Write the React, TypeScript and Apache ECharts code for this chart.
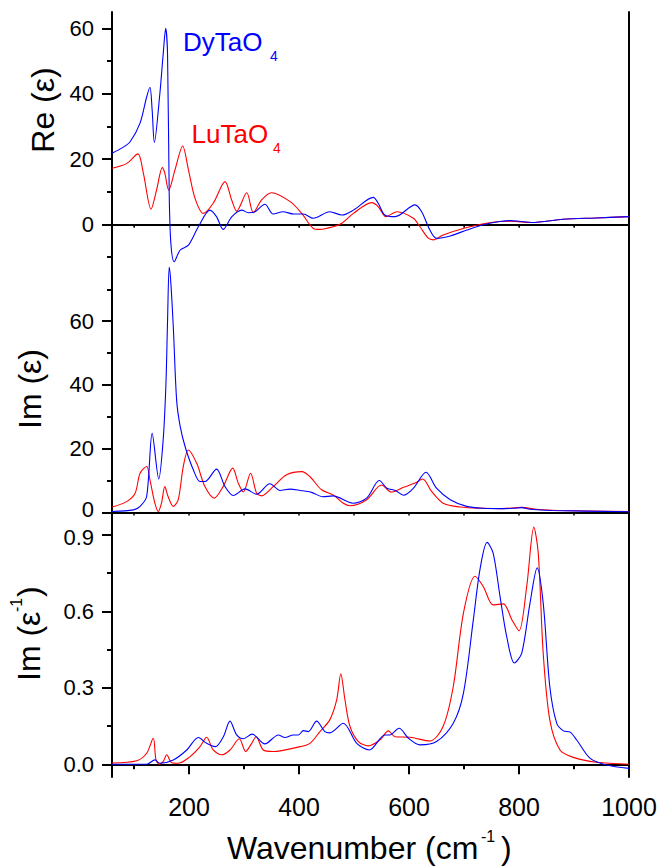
import React, { useEffect, useRef } from "react";
import * as echarts from "echarts";

// ---- data: [wavenumber (cm-1), value] ----
const reDy: number[][] = [
  [60, 21.8], [80, 23.6], [93, 25.3], [111, 31], [123, 39], [129, 42], [133, 35], [137, 25.1],
  [147, 40], [153, 52], [157.6, 60], [161, 52], [164, 9.6], [167, -5.7], [173, -11.4],
  [184, -7.8], [199, -6.3], [217, -0.7], [238, 4.4], [250, 2.4], [262, -1.5], [278, 2.4],
  [296, 4.4], [308, 3.6], [320, 3.9], [338, 6.2], [353, 3.2], [371, 3.9], [390, 3.2],
  [408, 3.2], [426, 1.9], [456, 3.9], [478, 2.9], [499, 4.4], [535, 8.3], [544, 6.5],
  [556, 2.9], [575, 2.4], [611, 6], [623, 3.9], [638, -1.7], [650, -4.2], [675, -3.5],
  [705, -1.7], [735, -0.1], [765, 0.9], [784, 1.2], [800, 1.0], [823, 0.6], [880, 1.6],
  [940, 2.0], [1000, 2.4],
];
const reLu: number[][] = [
  [60, 17.2], [87, 18.7], [107, 21.6], [117, 15.7], [131, 4.7], [141, 10.5], [151.5, 17.4],
  [156, 15.7], [163, 10.5], [174.5, 16.7], [188.5, 24], [199, 16.7], [211, 8], [226, 3.4],
  [244, 6.5], [265.5, 13.1], [277.6, 7.5], [286.7, 4.1], [305, 9.7], [317, 3.6], [332, 7.5],
  [350, 9.7], [384, 7], [405, 3.4], [426, -1.2], [438, -1.5], [462, -0.7], [478, 0.4],
  [499, 3.4], [532, 6.7], [544, 5.5], [558, 2.4], [578, 3.9], [608, 1.9], [620, -0.7],
  [635, -4.2], [644, -4.7], [662, -3.2], [705, -0.9], [741, 0.4], [765, 0.9], [785, 1.0],
  [823, 0.6], [880, 1.6], [940, 2.0], [1000, 2.4],
];
const imDy: number[][] = [
  [60, 0.3], [99, 0.8], [111, 1.9], [123, 5], [133, 24.8], [145, 10.5], [153, 22.7],
  [158, 40], [161, 60], [164, 77], [167, 72], [171.5, 58], [177.6, 35], [184, 27],
  [193, 20.6], [208, 13.3], [220, 9.7], [229, 9.7], [250, 13.6], [265.5, 8.1], [280.5, 5.3],
  [302, 7.4], [323, 5.7], [347, 9], [365.5, 6.9], [383.6, 7.3], [402, 6.9], [423, 6.3],
  [443, 4.9], [462, 5.2], [498, 2.9], [523, 4.5], [546, 10], [560, 7.6], [575, 6.9],
  [590, 5.4], [608, 7.6], [631, 12.6], [650, 7.6], [675, 4], [705, 1.9], [735, 1.3],
  [765, 1.2], [790, 1.3], [805, 1.5], [820, 1.0], [860, 0.6], [1000, 0.2],
];
const imLu: number[][] = [
  [60, 1.7], [86.7, 3.4], [102, 6], [111, 12.3], [123, 14.4], [129, 10.2], [138, 2.9],
  [144, 0.3], [150, 2.9], [156, 8.1], [162, 5], [171.5, 1.9], [180.5, 4], [189.6, 14.4],
  [198.7, 19.6], [214, 15.4], [229, 8.1], [246, 4.5], [262, 8.1], [279.5, 13.9],
  [289.6, 9.2], [298.7, 6.4], [312, 12.3], [323, 6], [332, 5.2], [353, 8.1], [377.6, 11.8],
  [405, 12.8], [420, 11.2], [441, 7.1], [462, 5.5], [480.5, 2.9], [493, 2.1], [523, 4],
  [550, 8.6], [568, 6.4], [590, 7.9], [611, 9.2], [625, 10.5], [641, 6.6], [662, 2.9],
  [693, 1.7], [735, 1.3], [770, 1.2], [805, 1.6], [830, 1.0], [870, 0.6], [1000, 0.3],
];
const ieDy: number[][] = [
  [60, 0], [123, 0], [138, 0.017], [147, 0.004], [171.5, 0.017], [196, 0.056], [217, 0.105],
  [232, 0.082], [248, 0.069], [262.5, 0.108], [274.5, 0.169], [286.7, 0.115], [298.7, 0.1],
  [315, 0.118], [338, 0.08], [362.5, 0.115], [374.5, 0.105], [389.6, 0.115], [399, 0.115],
  [408, 0.132], [417, 0.128], [432, 0.169], [447, 0.128], [456, 0.123], [480.5, 0.161],
  [505, 0.082], [528, 0.056], [556, 0.115], [565, 0.115], [582, 0.141], [599, 0.102],
  [620, 0.076], [650, 0.089], [680.5, 0.161], [699, 0.279], [717, 0.567], [729, 0.763],
  [742, 0.87], [753, 0.828], [765.5, 0.658], [777.6, 0.501], [791.5, 0.397], [805, 0.436],
  [820, 0.632], [833, 0.77], [844, 0.632], [856, 0.305], [868.5, 0.161], [880.6, 0.131],
  [893, 0.126], [905, 0.095], [929, 0.024], [959, -0.003], [1000, -0.016],
];
const ieLu: number[][] = [
  [60, 0.005], [105, 0.014], [123, 0.043], [135, 0.102], [140, 0.017], [146, 0], [153, 0.01],
  [159.5, 0.037], [168.5, 0.006], [180.5, 0.004], [202, 0.03], [220, 0.069], [232, 0.106],
  [244, 0.056], [259.5, 0.037], [274.5, 0.056], [291.5, 0.1], [303, 0.05], [314, 0.082],
  [322, 0.108], [335, 0.056], [353, 0.05], [402, 0.069], [420, 0.082], [438, 0.128],
  [456, 0.174], [468.5, 0.252], [476, 0.355], [483.6, 0.252], [492.7, 0.148], [508, 0.089],
  [526, 0.072], [547, 0.095], [562.5, 0.131], [574.5, 0.108], [602, 0.106], [638, 0.091],
  [662, 0.148], [680.5, 0.305], [699, 0.593], [720, 0.737], [735, 0.697], [753, 0.625],
  [771.5, 0.629], [787, 0.567], [800, 0.523], [814, 0.697], [827, 0.93], [835, 0.828],
  [844, 0.436], [856, 0.174], [874.5, 0.056], [898.7, 0.027], [941, 0.008], [1000, 0],
];

const xMajor = [200, 400, 600, 800, 1000];
const xMinor = [100, 300, 500, 700, 900];
const xAll = [100, 200, 300, 400, 500, 600, 700, 800, 900, 1000];
const reMajor = [0, 20, 40, 60];
const reMinor = [-10, 10, 30, 50];
const imMajor = [0, 20, 40, 60];
const imMinor = [10, 30, 50, 70];
const ieMajor = [0, 0.3, 0.6, 0.9];
const ieMinor = [0.15, 0.45, 0.75];

const FONT = '"Liberation Sans", Arial, Helvetica, sans-serif';
const BLUE = "#0000ff";
const RED = "#ff0000";

function App() {
  const ref = useRef<HTMLDivElement>(null);
  useEffect(() => {
    if (!ref.current) return;
    const chart = echarts.init(ref.current, null, { renderer: "svg" });
    const line = { show: true, lineStyle: { color: "#000", width: 2 } };
    const noLine = { show: false };
    const base = (extra: any) => ({
      type: "value",
      min: 60,
      max: 1000,
      splitLine: { show: false },
      axisLabel: { show: false },
      ...extra,
    });
    const xAxes: any[] = [
      base({ gridIndex: 0, position: "bottom", axisLine: line,
        axisTick: { show: true, customValues: xAll, length: 3, lineStyle: { color: "#000", width: 1.5 } } }),
      base({ gridIndex: 0, position: "top", axisLine: line,
        axisTick: { show: true, inside: true, customValues: xAll, length: 3, lineStyle: { color: "#000", width: 1 } } }),
      base({ gridIndex: 1, position: "bottom", axisLine: line,
        axisTick: { show: true, customValues: xAll, length: 3, lineStyle: { color: "#000", width: 1.5 } } }),
      base({ gridIndex: 2, position: "bottom", axisLine: line,
        axisTick: { show: true, customValues: xMajor, length: 10, lineStyle: { color: "#000", width: 2 } },
        axisLabel: { show: true, customValues: xMajor, fontSize: 25, fontFamily: FONT, color: "#000", margin: 17,
          formatter: (v: number) => String(v) } }),
      base({ gridIndex: 2, position: "bottom", axisLine: noLine,
        axisTick: { show: true, customValues: xMinor, length: 5, lineStyle: { color: "#000", width: 2 } } }),
    ];
    const rich = {
      up: { fontSize: 22, fontFamily: FONT, color: "#000", padding: [0, 0, 5, 0] },
      dn: { fontSize: 22, fontFamily: FONT, color: "#000", padding: [5, 0, 0, 0] },
    };
    const yTrio = (g: number, min: number, max: number, major: number[], minor: number[], fmt?: any) => [
      { type: "value", gridIndex: g, position: "left", min, max, splitLine: { show: false }, axisLine: line,
        axisTick: { show: true, customValues: major, length: 10, lineStyle: { color: "#000", width: 2 } },
        axisLabel: { show: true, customValues: major, fontSize: 22, fontFamily: FONT, color: "#000",
          margin: 18, formatter: fmt, rich } },
      { type: "value", gridIndex: g, position: "left", min, max, splitLine: { show: false }, axisLine: noLine,
        axisTick: { show: true, customValues: minor, length: 5, lineStyle: { color: "#000", width: 2 } },
        axisLabel: { show: false } },
      { type: "value", gridIndex: g, position: "right", min, max, splitLine: { show: false }, axisLine: line,
        axisTick: { show: false }, axisLabel: { show: false } },
    ];
    const yAxes: any[] = [
      ...yTrio(0, -13, 65, reMajor, reMinor, (v: number) => String(v)),
      ...yTrio(1, -3, 77, imMajor, imMinor, (v: number) => (v === 0 ? "{up|0}" : String(v))),
      ...yTrio(2, -0.05, 0.95, ieMajor, ieMinor, (v: number) => (v === 0.9 ? "{dn|0.9}" : v.toFixed(1))),
    ];
    const ser = (data: number[][], color: string, xi: number, yi: number) => ({
      type: "line", data, xAxisIndex: xi, yAxisIndex: yi, showSymbol: false, symbol: "none",
      smooth: 0.3, lineStyle: { color, width: 1.1 }, itemStyle: { color }, z: color === BLUE ? 3 : 2,
    });
    const txt = (text: string, x: number, y: number, size: number, color: string, align: string, rot = 0) => ({
      type: "text", x, y, rotation: rot,
      style: { text, fontSize: size, fontFamily: FONT, fill: color, align, verticalAlign: "middle" },
    });
    const R = Math.PI / 2;
    chart.setOption({
      animation: false,
      backgroundColor: "#fff",
      grid: [
        { left: 112, top: 12, width: 517, height: 255 },
        { left: 112, top: 267, width: 517, height: 255 },
        { left: 112, top: 522, width: 517, height: 255 },
      ],
      xAxis: xAxes,
      yAxis: yAxes,
      series: [
        ser(reLu, RED, 0, 0), ser(reDy, BLUE, 0, 0),
        ser(imLu, RED, 2, 3), ser(imDy, BLUE, 2, 3),
        ser(ieLu, RED, 3, 6), ser(ieDy, BLUE, 3, 6),
      ],
      graphic: [
        txt("Re (ε)", 43, 110, 32, "#000", "center", R),
        txt("Im (ε)", 30, 389, 32, "#000", "center", R),
        txt("Im (ε", 29, 681, 32, "#000", "left", R),
        txt("-1", 16, 612, 16, "#000", "left", R),
        txt(")", 29, 597, 32, "#000", "left", R),
        txt("Wavenumber (cm", 227, 848, 32, "#000", "left"),
        txt("-1", 481, 836, 16, "#000", "left"),
        txt(")", 501, 848, 32, "#000", "left"),
        txt("DyTaO", 183, 42, 26, BLUE, "left"),
        txt("4", 270, 56, 14, BLUE, "left"),
        txt("LuTaO", 191.5, 134, 26, RED, "left"),
        txt("4", 273, 148, 14, RED, "left"),
      ],
    });
    return () => chart.dispose();
  }, []);
  return (
    <div
      ref={ref}
      style={{ position: "absolute", left: 0, top: 0, width: 663, height: 866, background: "#fff" }}
    />
  );
}

export default App;
